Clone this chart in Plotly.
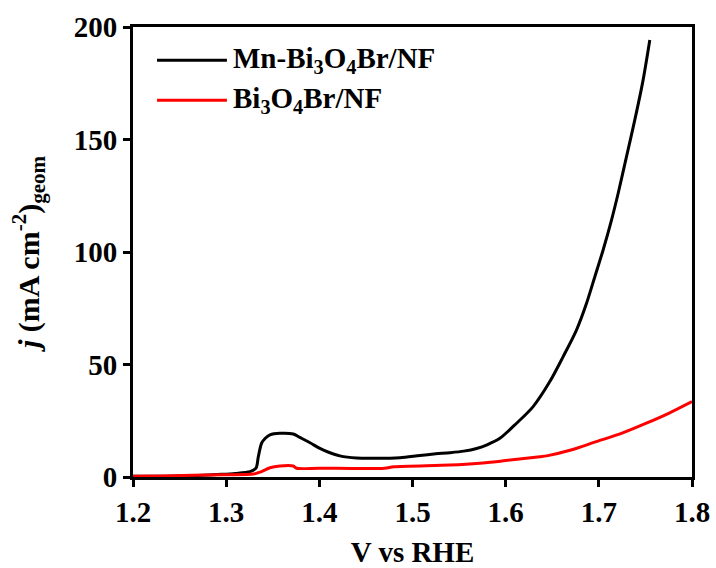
import plotly.graph_objects as go

# Mn-Bi3O4Br/NF (black)
v_mn = [1.20, 1.25, 1.295, 1.31, 1.3255, 1.332, 1.3345, 1.338, 1.342, 1.347, 1.3577, 1.372, 1.379,
        1.39, 1.4006, 1.41, 1.422, 1.44, 1.46, 1.4865, 1.508, 1.525, 1.540, 1.555, 1.5688, 1.58,
        1.5938, 1.6117, 1.6295, 1.6474, 1.6617, 1.676, 1.6868, 1.6957, 1.7046, 1.7136, 1.7207,
        1.7297, 1.7386, 1.7475, 1.7547]
j_mn = [0.3, 0.4, 1.2, 1.6, 2.4, 3.9, 9.0, 15.0, 17.2, 18.7, 19.4, 19.1, 17.6,
        15.2, 12.7, 11.0, 9.4, 8.4, 8.3, 8.6, 9.6, 10.3, 10.8, 11.5, 12.7, 14.3,
        17.2, 23.9, 31.3, 42.4, 53.5, 65.3, 77.2, 89.0, 100.9, 114.2, 126.0,
        142.4, 158.7, 176.4, 194.2]

# Bi3O4Br/NF (red)
v_bi = [1.20, 1.232, 1.297, 1.329, 1.338, 1.347, 1.3577, 1.372, 1.3756, 1.40, 1.47, 1.48,
        1.54, 1.572, 1.60, 1.6367, 1.644, 1.67, 1.697, 1.725, 1.751, 1.775, 1.80]
j_bi = [0.3, 0.5, 1.0, 1.3, 2.4, 4.1, 4.9, 4.9, 3.9, 3.9, 3.9, 4.6,
        5.3, 6.1, 7.3, 9.0, 9.4, 12.0, 15.7, 19.5, 23.9, 28.3, 33.5]

x_ticks = [1.2, 1.3, 1.4, 1.5, 1.6, 1.7, 1.8]
y_ticks = [0, 50, 100, 150, 200]
names = ["Mn-Bi<sub>3</sub>O<sub>4</sub>Br/NF", "Bi<sub>3</sub>O<sub>4</sub>Br/NF"]
colors = ["black", "#ff0000"]

FONT = "Liberation Serif"

fig = go.Figure()
fig.add_trace(go.Scatter(x=v_mn, y=j_mn, mode="lines", name=names[0],
                         line=dict(color=colors[0], width=3, shape="spline", smoothing=0.8)))
fig.add_trace(go.Scatter(x=v_bi, y=j_bi, mode="lines", name=names[1],
                         line=dict(color=colors[1], width=3, shape="spline", smoothing=0.8)))

# custom legend (long line samples like the original)
for i, (nm, c) in enumerate(zip(names, colors)):
    yp = 0.926 - i * 0.089
    fig.add_shape(type="line", xref="paper", yref="paper", x0=0.043, x1=0.168, y0=yp, y1=yp,
                  line=dict(color=c, width=3))
    fig.add_annotation(xref="paper", yref="paper", x=0.176, y=yp, text="<b>" + nm + "</b>",
                       showarrow=False, xanchor="left", yanchor="middle",
                       font=dict(family=FONT, size=29, color="black"))

axis_common = dict(showline=True, linecolor="black", linewidth=3, mirror=True,
                   ticks="outside", ticklen=7, tickwidth=2.5, tickcolor="black",
                   showgrid=False, zeroline=False, automargin=False,
                   tickfont=dict(family=FONT, size=29, color="black"))

fig.update_xaxes(range=[1.2, 1.8], tickvals=x_ticks, ticktext=["<b>%.1f</b>" % t for t in x_ticks],
                 title=dict(text="<b>V vs RHE</b>", font=dict(family=FONT, size=29, color="black"),
                            standoff=28),
                 **axis_common)
fig.update_yaxes(range=[0, 200], tickvals=y_ticks, ticktext=["<b>%d</b>" % t for t in y_ticks],
                 title=dict(text="<b><i>j</i> (mA cm<sup>-2</sup>)<sub>geom</sub></b>",
                            font=dict(family=FONT, size=30, color="black"), standoff=26),
                 **axis_common)

fig.update_layout(width=716, height=568, showlegend=False,
                  margin=dict(l=133, r=24, t=27, b=91),
                  plot_bgcolor="white", paper_bgcolor="white")

fig.write_html("out.html")
